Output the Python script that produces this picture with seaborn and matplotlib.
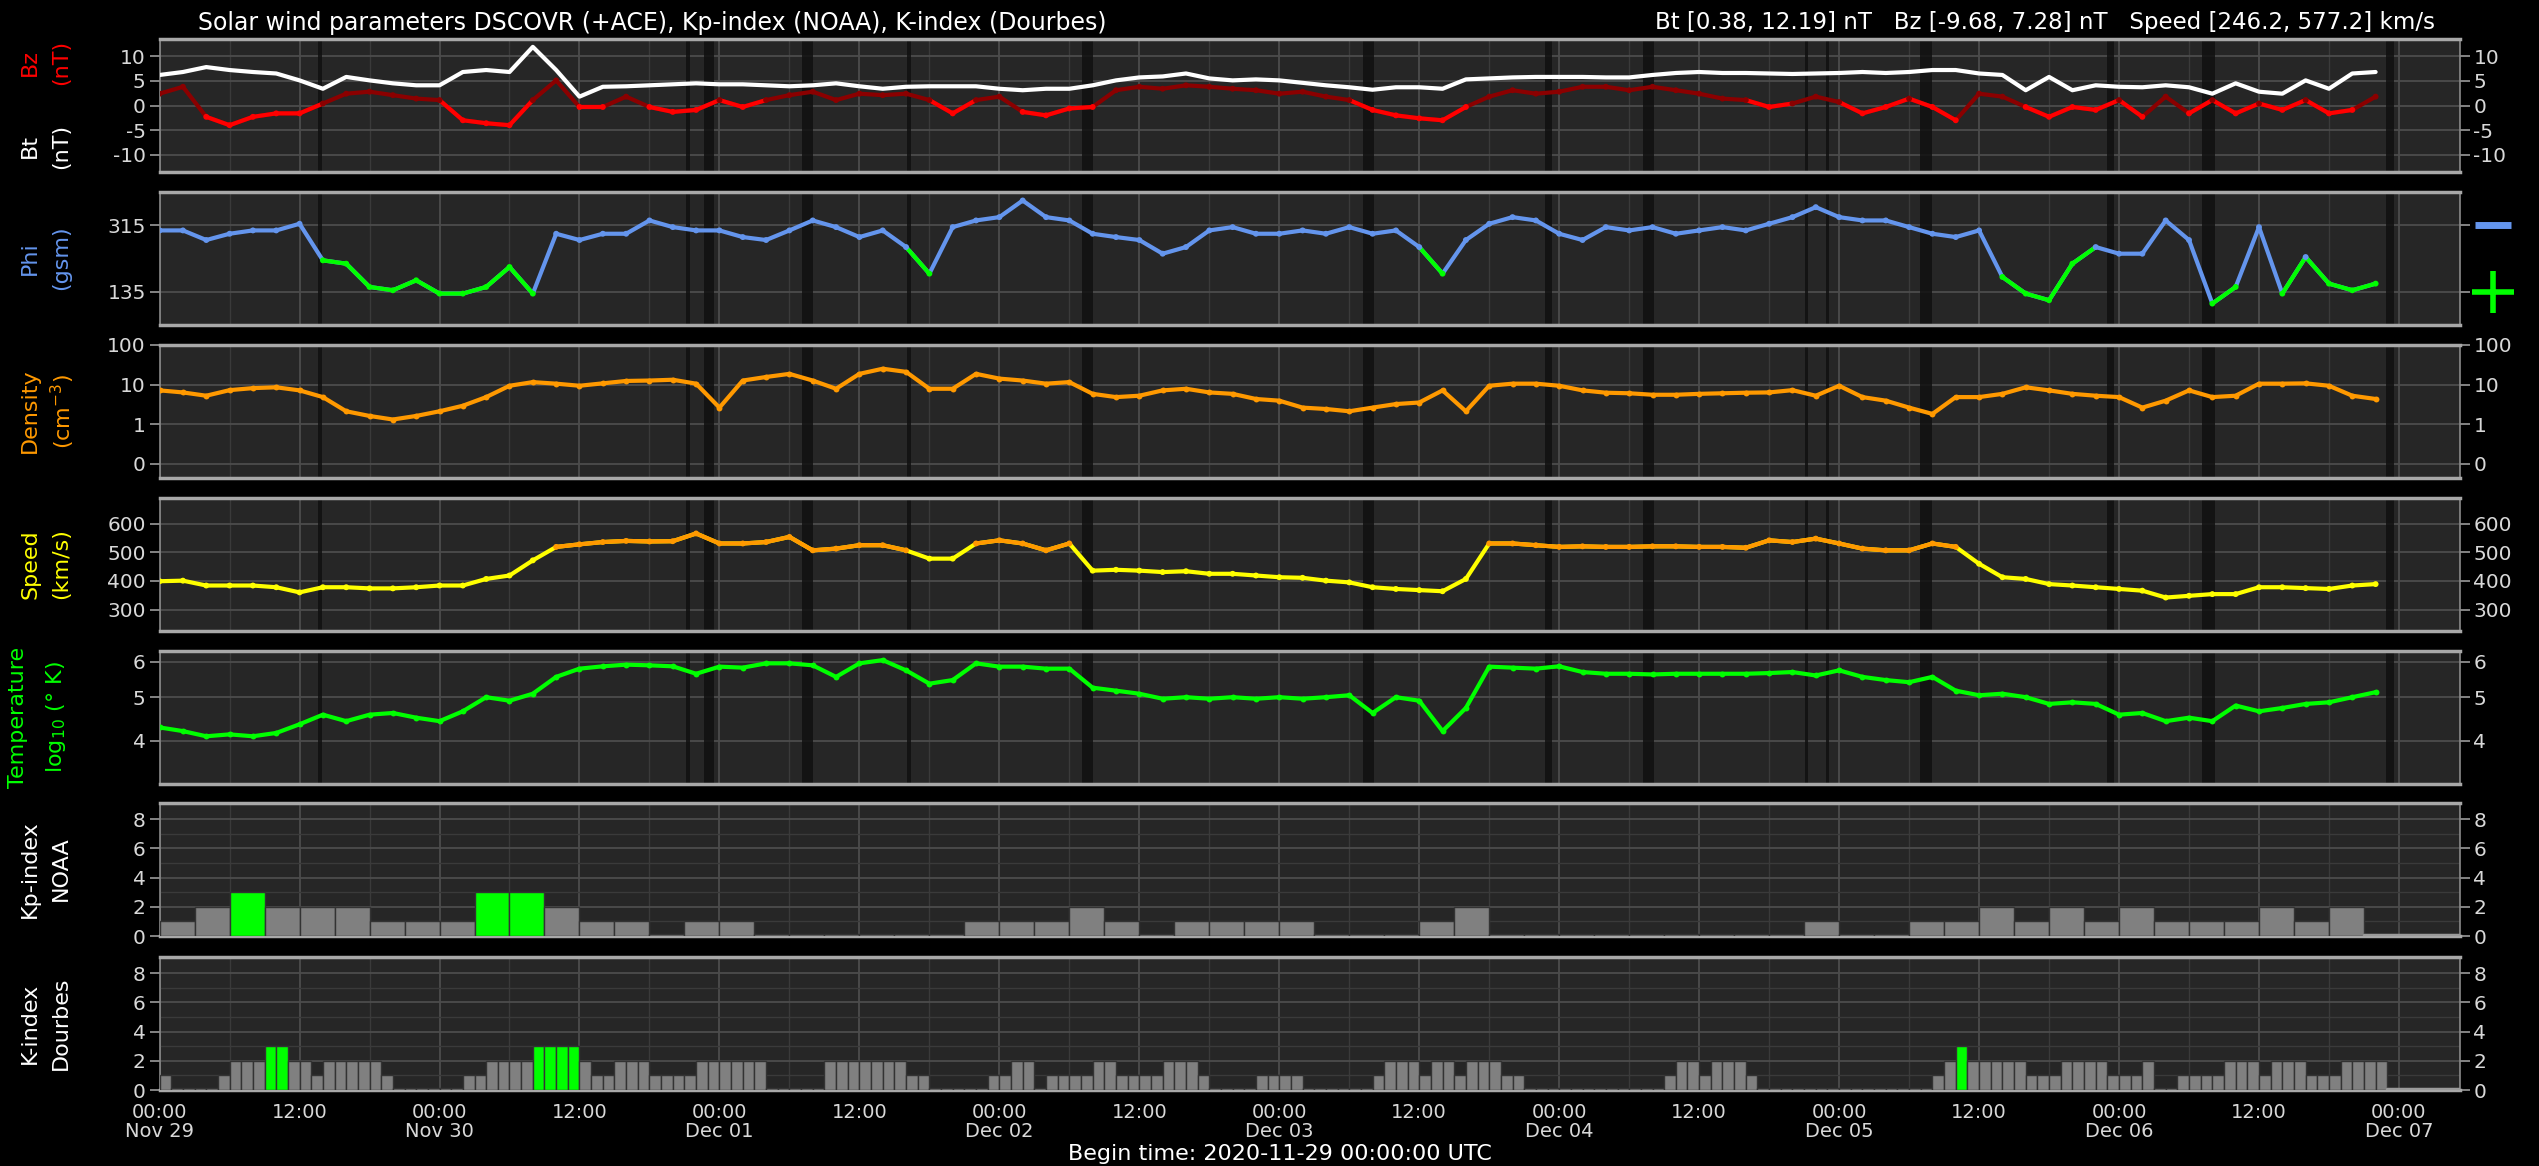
import numpy as np
import pandas as pd
import seaborn as sns
import matplotlib.pyplot as plt
import matplotlib.transforms as mtransforms
from matplotlib.ticker import NullLocator

# --- data (2-hourly samples from 2020-11-29 00:00 UTC) ---
hours = np.arange(0, 192, 2)

bt = [6.2, 6.8, 7.8, 7.2, 6.8, 6.5, 5.1, 3.4, 5.8, 5.1,
      4.5, 4.1, 4.1, 6.8, 7.2, 6.8, 11.9, 7.2, 1.8, 3.8,
      3.9, 4.1, 4.3, 4.5, 4.3, 4.3, 4.1, 3.9, 4.1, 4.5,
      3.9, 3.4, 3.8, 3.9, 3.9, 3.9, 3.4, 3.1, 3.4, 3.4,
      4.1, 5.1, 5.7, 5.9, 6.5, 5.5, 5.1, 5.3,
      5.1, 4.6, 4.1, 3.7, 3.2, 3.7, 3.7, 3.4, 5.3, 5.5,
      5.7, 5.8, 5.8, 5.8, 5.7, 5.7, 6.2, 6.6, 6.8, 6.6,
      6.6, 6.5, 6.4, 6.5, 6.6, 6.8, 6.6, 6.8, 7.2, 7.2,
      6.5, 6.2, 3.1, 5.8, 3.1, 4.1, 3.8, 3.7, 4.1, 3.7,
      2.4, 4.5, 2.8, 2.4, 5.1, 3.4, 6.5, 6.8]

bz = [2.4, 3.8, -2.3, -4.0, -2.3, -1.6, -1.6, 0.4, 2.4, 2.8,
      2.1, 1.4, 1.1, -3.0, -3.6, -4.0, 1.1, 5.1, -0.3, -0.3,
      1.8, -0.3, -1.3, -0.9, 1.1, -0.3, 1.1, 2.1, 2.8, 1.1,
      2.4, 2.1, 2.4, 1.1, -1.6, 1.1, 1.8, -1.3, -2.0, -0.6,
      -0.3, 3.1, 3.8, 3.4, 4.1, 3.8, 3.4, 3.1,
      2.4, 2.8, 1.8, 1.1, -0.9, -2.0, -2.6, -3.0, -0.3, 1.8,
      3.1, 2.4, 2.8, 3.8, 3.8, 3.1, 3.8, 3.1, 2.4, 1.4,
      1.1, -0.3, 0.4, 1.8, 0.7, -1.6, -0.3, 1.4, -0.3, -3.0,
      2.4, 1.8, -0.3, -2.3, -0.3, -0.9, 1.1, -2.3, 1.8, -1.6,
      1.1, -1.6, 0.4, -0.9, 1.1, -1.6, -0.9, 1.8]

phi = [301, 301, 275, 292, 301, 301, 319, 220, 211, 148,
       139, 166, 130, 130, 148, 202, 130, 292, 275, 292,
       292, 328, 310, 301, 301, 283, 275, 301, 328, 310,
       283, 301, 256, 184, 310, 328, 337, 382, 337, 328,
       292, 283, 275, 238, 256, 301, 310, 292,
       292, 301, 292, 310, 292, 301, 256, 184, 275, 319,
       337, 328, 292, 275, 310, 301, 310, 292, 301, 310,
       301, 319, 337, 364, 337, 328, 328, 310, 292, 283,
       301, 175, 130, 112, 211, 256, 238, 238, 328, 275,
       103, 148, 310, 130, 229, 157, 139, 157]

density = [7.1, 6.3, 5.2, 7.2, 8.1, 8.5, 7.1, 4.8, 2.1, 1.6,
           1.3, 1.6, 2.1, 2.9, 4.8, 9.3, 11.5, 10.5, 9.3, 10.7,
           12.3, 12.6, 13.2, 10.5, 2.6, 12.6, 15.5, 18.6, 12.6, 7.8,
           18.6, 25.1, 20.9, 7.8, 7.8, 18.6, 14.1, 12.6, 10.5, 11.5,
           5.8, 4.8, 5.2, 7.1, 7.8, 6.3, 5.8, 4.3,
           3.9, 2.6, 2.4, 2.1, 2.6, 3.2, 3.5, 7.1, 2.1, 9.3,
           10.5, 10.5, 9.3, 7.1, 6.2, 6.0, 5.5, 5.5, 5.8, 6.0,
           6.2, 6.3, 7.2, 5.2, 9.3, 4.8, 3.9, 2.6, 1.8, 4.8,
           4.8, 5.8, 8.5, 7.1, 5.8, 5.2, 4.8, 2.6, 3.9, 7.1,
           4.8, 5.2, 10.5, 10.5, 10.7, 9.3, 5.2, 4.3]

speed = [399, 401, 384, 384, 384, 378, 360, 378, 378, 374,
         374, 378, 384, 384, 407, 419, 472, 519, 528, 536,
         540, 538, 539, 566, 531, 531, 536, 554, 507, 513,
         525, 525, 507, 478, 478, 531, 542, 531, 507, 531,
         436, 439, 436, 431, 434, 425, 425, 419,
         413, 411, 401, 395, 378, 372, 368, 364, 407, 531,
         531, 525, 519, 521, 519, 519, 521, 521, 519, 519,
         516, 542, 536, 548, 531, 513, 507, 507, 531, 519,
         460, 413, 407, 389, 384, 378, 372, 366, 342, 348,
         354, 354, 378, 378, 375, 372, 384, 389]

temp_log = [4.28, 4.20, 4.09, 4.13, 4.09, 4.16, 4.35, 4.57, 4.42, 4.57,
            4.61, 4.50, 4.42, 4.65, 5.00, 4.91, 5.09, 5.55, 5.79, 5.86,
            5.91, 5.89, 5.86, 5.64, 5.85, 5.82, 5.95, 5.95, 5.89, 5.55,
            5.95, 6.05, 5.74, 5.36, 5.46, 5.95, 5.85, 5.85, 5.79, 5.79,
            5.25, 5.17, 5.09, 4.96, 5.00, 4.96, 5.00, 4.96,
            5.00, 4.96, 5.00, 5.05, 4.61, 5.00, 4.91, 4.20, 4.73, 5.85,
            5.82, 5.79, 5.86, 5.69, 5.64, 5.64, 5.62, 5.64, 5.64, 5.64,
            5.64, 5.66, 5.69, 5.59, 5.74, 5.55, 5.46, 5.40, 5.55, 5.17,
            5.05, 5.09, 5.00, 4.83, 4.87, 4.83, 4.57, 4.61, 4.42, 4.50,
            4.42, 4.79, 4.65, 4.73, 4.83, 4.87, 5.00, 5.13]

# Kp (NOAA), 3-hourly
kp = [1, 2, 3, 2, 2, 2, 1, 1,
      1, 3, 3, 2, 1, 1, 0, 1,
      1, 0, 0, 0, 0, 0, 0, 1,
      1, 1, 2, 1, 0, 1, 1, 1,
      1, 0, 0, 0, 1, 2, 0, 0,
      0, 0, 0, 0, 0, 0, 0, 1,
      0, 0, 1, 1, 2, 1, 2, 1,
      2, 1, 1, 1, 2, 1, 2]

# K (Dourbes), hourly
k_dourbes = [1, 0, 0, 0, 0, 1, 2, 2, 2, 3, 3, 2, 2, 1, 2, 2, 2, 2, 2, 1, 0, 0, 0, 0,
             0, 0, 1, 1, 2, 2, 2, 2, 3, 3, 3, 3, 2, 1, 1, 2, 2, 2, 1, 1, 1, 1, 2, 2,
             2, 2, 2, 2, 0, 0, 0, 0, 0, 2, 2, 2, 2, 2, 2, 2, 1, 1, 0, 0, 0, 0, 0, 1,
             1, 2, 2, 0, 1, 1, 1, 1, 2, 2, 1, 1, 1, 1, 2, 2, 2, 1, 0, 0, 0, 0, 1, 1,
             1, 1, 0, 0, 0, 0, 0, 0, 1, 2, 2, 2, 1, 2, 2, 1, 2, 2, 2, 1, 1, 0, 0, 0,
             0, 0, 0, 0, 0, 0, 0, 0, 0, 1, 2, 2, 1, 2, 2, 2, 1, 0, 0, 0, 0, 0, 0, 0,
             0, 0, 0, 0, 0, 0, 0, 0, 1, 2, 3, 2, 2, 2, 2, 2, 1, 1, 1, 2, 2, 2, 2, 1,
             1, 1, 2, 0, 0, 1, 1, 1, 1, 2, 2, 2, 1, 2, 2, 2, 1, 1, 1, 2, 2, 2, 2]

# data gaps / ACE periods (start hour, length in hours)
gap_start = [13.6, 45.1, 46.7, 55.1, 64.1, 79.1, 103.2, 118.8, 127.2, 141.1, 142.9, 150.9, 167.0, 175.1, 190.9]
gap_len = [0.3, 0.4, 0.8, 0.9, 0.3, 0.9, 0.9, 0.6, 0.9, 0.2, 0.2, 1.1, 0.6, 1.1, 0.7]

day_labels = ['Nov 29', 'Nov 30', 'Dec 01', 'Dec 02', 'Dec 03', 'Dec 04', 'Dec 05', 'Dec 06', 'Dec 07']

sw = pd.DataFrame({'hour': hours, 'bt': bt, 'bz': bz, 'phi': phi,
                   'density': density, 'speed': speed, 'temp': temp_log})

# --- style ---
sns.set_theme(style='darkgrid', rc={'axes.facecolor': '#262626', 'figure.facecolor': 'black'})
plt.rcParams['font.family'] = ['DejaVu Sans']
plt.rcParams['axes.unicode_minus'] = False

W, H = 2539, 1166
fig = plt.figure(figsize=(W / 100, H / 100), dpi=100, facecolor='black')

TXT = '#d8d8d8'
XMAX = 197.2
LW = 3.0


def panel(top):
    ax = fig.add_axes([159.6 / W, 1 - (top + 133) / H, 2300 / W, 133 / H])
    ax.set_facecolor('#262626')
    ax.set_xlim(0, XMAX)
    ax.set_xticks(np.arange(0, 193, 12))
    ax.set_xticks(np.arange(0, 198, 6), minor=True)
    ax.grid(which='major', color='#4c4c4c', lw=1.3)
    ax.grid(which='minor', color='#3a3a3a', lw=1.0)
    for s in ['left', 'right']:
        ax.spines[s].set_color('#8a8a8a')
        ax.spines[s].set_linewidth(1.2)
    for s in ['top', 'bottom']:
        ax.spines[s].set_color('#a8a8a8')
        ax.spines[s].set_linewidth(2.5)
    for s in ax.spines.values():
        s.set_visible(True)
    ax.tick_params(axis='y', which='major', left=True, right=True, labelleft=True, labelright=True,
                   colors='#9a9a9a', labelcolor=TXT, labelsize=14.5, length=7, width=1.2, pad=3)
    ax.tick_params(axis='y', which='minor', left=False, right=False)
    ax.tick_params(axis='x', which='both', bottom=False, labelbottom=False)
    return ax


def gaps(ax):
    for s, l in zip(gap_start, gap_len):
        ax.axvspan(s, s + l, color='#101010', alpha=0.85, lw=0, zorder=1)


def with_neighbours(mask):
    # a segment takes the second colour if either of its end points does
    m = np.asarray(mask)
    return m | np.r_[m[1:], False] | np.r_[False, m[:-1]]


tops = [39, 192, 345, 498, 651, 803, 957]

# Bz / Bt
ax1 = panel(tops[0])
gaps(ax1)
neg = sw['bz'] < 0
sns.lineplot(data=sw, x='hour', y='bz', color='#8b0000', lw=LW, ax=ax1, zorder=3)
ax1.plot(sw['hour'], sw['bz'].where(with_neighbours(neg) & (sw['bz'] < 1.5)), color='#ff0000', lw=LW, zorder=4)
sns.scatterplot(data=sw, x='hour', y='bz', hue=np.where(neg, 'neg', 'pos'),
                palette={'neg': '#ff0000', 'pos': '#8b0000'}, s=18, linewidth=0, legend=False, ax=ax1, zorder=4)
sns.lineplot(data=sw, x='hour', y='bt', color='white', lw=LW, ax=ax1, zorder=5)
ax1.set_ylim(-13.5, 13.5)
ax1.set_yticks([-10, -5, 0, 5, 10])
ax1.set_yticklabels(['-10', '-5', '0', '5', '10'])
ax1.set_xlabel('')
ax1.set_ylabel('')

# Phi
ax2 = panel(tops[1])
gaps(ax2)
toward = sw['phi'] < 225
sns.lineplot(data=sw, x='hour', y='phi', color='#6495ed', lw=LW, ax=ax2, zorder=3)
ax2.plot(sw['hour'], sw['phi'].where(with_neighbours(toward) & (sw['phi'] < 260)), color='#00ff00', lw=LW, zorder=4)
sns.scatterplot(data=sw, x='hour', y='phi', hue=np.where(toward, 'toward', 'away'),
                palette={'away': '#6495ed', 'toward': '#00ff00'}, s=18, linewidth=0, legend=False, ax=ax2, zorder=4)
ax2.set_ylim(45, 405)
ax2.set_yticks([135, 315])
ax2.tick_params(axis='y', labelright=False)
trans = mtransforms.blended_transform_factory(ax2.transAxes, ax2.transData)
ax2.plot([1.0145], [315], transform=trans, marker='_', ms=26, mew=5, color='#6495ed', clip_on=False)
ax2.plot([1.0145], [135], transform=trans, marker='+', ms=30, mew=4, color='#00ff00', clip_on=False)
ax2.set_xlabel('')
ax2.set_ylabel('')

# Density
ax3 = panel(tops[2])
gaps(ax3)
sns.lineplot(data=sw, x='hour', y='density', color='#ff9900', lw=LW, ax=ax3, zorder=3)
sns.scatterplot(data=sw, x='hour', y='density', color='#ff9900', s=18, linewidth=0, ax=ax3, zorder=4)
ax3.set_yscale('log')
ax3.set_ylim(0.043, 100)
ax3.set_yticks([0.1, 1, 10, 100])
ax3.set_yticklabels(['0', '1', '10', '100'])
ax3.yaxis.set_minor_locator(NullLocator())
ax3.set_xlabel('')
ax3.set_ylabel('')

# Speed
ax4 = panel(tops[3])
gaps(ax4)
fast = sw['speed'] >= 500
sns.lineplot(data=sw, x='hour', y='speed', color='#ffff00', lw=LW, ax=ax4, zorder=3)
ax4.plot(sw['hour'], sw['speed'].where(fast), color='#ff9900', lw=LW, zorder=4)
sns.scatterplot(data=sw, x='hour', y='speed', hue=np.where(fast, 'fast', 'slow'),
                palette={'fast': '#ff9900', 'slow': '#ffff00'}, s=18, linewidth=0, legend=False, ax=ax4, zorder=4)
ax4.set_ylim(225, 690)
ax4.set_yticks([300, 400, 500, 600])
ax4.set_xlabel('')
ax4.set_ylabel('')

# Temperature
ax5 = panel(tops[4])
gaps(ax5)
sns.lineplot(data=sw, x='hour', y='temp', color='#00ff00', lw=LW, ax=ax5, zorder=3)
sns.scatterplot(data=sw, x='hour', y='temp', color='#00ff00', s=18, linewidth=0, ax=ax5, zorder=4)
ax5.set_yscale('log')
ax5.set_ylim(3.2, 6.34)
ax5.set_yticks([4, 5, 6])
ax5.set_yticklabels(['4', '5', '6'])
ax5.yaxis.set_minor_locator(NullLocator())
ax5.set_xlabel('')
ax5.set_ylabel('')


def index_bars(ax, values, step):
    v = np.array(values, dtype=float)
    starts = np.arange(len(v)) * step
    cols = ['#00ff00' if x >= 3 else '#808080' for x in v]
    ax.bar(starts, np.maximum(v, 0.15), width=step, align='edge', color=cols,
           edgecolor='#333333', linewidth=1.0, zorder=3)
    ax.plot([len(v) * step, XMAX], [0.04, 0.04], color='#9a9a9a', lw=2.5, zorder=3)
    ax.set_ylim(0, 9.1)
    ax.set_yticks([0, 2, 4, 6, 8])
    ax.set_yticks(np.arange(1, 10, 2), minor=True)


ax6 = panel(tops[5])
index_bars(ax6, kp, 3)

ax7 = panel(tops[6])
index_bars(ax7, k_dourbes, 1)
xt = np.arange(0, 193, 12)
ax7.set_xticks(xt)
ax7.set_xticklabels(['00:00\n' + day_labels[h // 24] if h % 24 == 0 else '12:00' for h in xt],
                    linespacing=1.05)
ax7.tick_params(axis='x', which='major', bottom=True, labelbottom=True, colors='#9a9a9a',
                labelcolor=TXT, labelsize=14, length=0, pad=9)

# --- labels (two rotated lines each) ---
LAB = 16


def ylab(ycen, first, second, color, x1=30, x2=61):
    for x, s in ((x1, first), (x2, second)):
        fig.text(x / W, 1 - ycen / H, s, rotation=90, ha='center', va='center', color=color, fontsize=LAB)


ylab(62, 'Bz', '(nT)', '#ff0000')
ylab(146, 'Bt', '(nT)', 'white')
ylab(258, 'Phi', '(gsm)', '#6495ed')
ylab(411, 'Density', '(cm$^{-3}$)', '#ff9900', x2=63)
ylab(564, 'Speed', '(km/s)', '#ffff00')
ylab(717, 'Temperature', 'log$_{10}$ ($\\degree$ K)', '#00ff00', x1=18, x2=56)
ylab(869, 'Kp-index', 'NOAA', 'white')
ylab(1023, 'K-index', 'Dourbes', 'white')

fig.text(198 / W, 1 - 23 / H, 'Solar wind parameters DSCOVR (+ACE), Kp-index (NOAA), K-index (Dourbes)',
         ha='left', va='center', color='white', fontsize=17)
fig.text(2435 / W, 1 - 23 / H, 'Bt [0.38, 12.19] nT   Bz [-9.68, 7.28] nT   Speed [246.2, 577.2] km/s',
         ha='right', va='center', color='white', fontsize=16.5)
fig.text(1280 / W, 1 - 1154 / H, 'Begin time: 2020-11-29 00:00:00 UTC',
         ha='center', va='center', color='white', fontsize=16)

fig.savefig('out.png', dpi=100, facecolor='black')
